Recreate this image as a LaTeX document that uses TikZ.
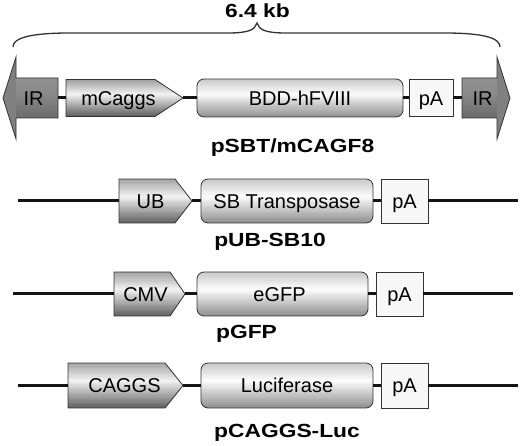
\documentclass[tikz,border=0pt]{standalone}
\usepackage{fontspec}
\usetikzlibrary{calc}
\setmainfont{Liberation Sans}
\newfontfamily\titlefont[FakeStretch=1.2]{Liberation Sans}
% vertical grey gradient made of thin strips over the extent of node #1
\newcommand\gradstrips[4]{%
  \foreach \k in {0,...,35}{%
    \pgfmathsetmacro\gf{(\k+0.5)/36}%
    \pgfmathsetmacro\ga{\k/36}%
    \pgfmathsetmacro\gb{(\k+1.5)/36}%
    \pgfmathsetmacro\gv{\gf<0.4 ? (#2+(#3-#2)*\gf/0.4) : (#3+(#4-#3)*(\gf-0.4)/0.6)}%
    \fill[black!\gv] ($(#1.north west)!\ga!(#1.south west)$) rectangle ($(#1.north east)!\gb!(#1.south east)$);
  }}
% promoter pentagon on node #1 with pointer length #2
\newcommand\promshape[2]{%
  \begin{scope}
    \clip (#1.north west) -- ([xshift=-#2]#1.north east) -- (#1.east)
      -- ([xshift=-#2]#1.south east) -- (#1.south west) -- cycle;
    \gradstrips{#1}{37}{5}{62}
  \end{scope}
  \draw[outl] (#1.north west) -- ([xshift=-#2]#1.north east) -- (#1.east)
      -- ([xshift=-#2]#1.south east) -- (#1.south west) -- cycle;}
% gene rounded box on node #1
\newcommand\geneshape[1]{%
  \begin{scope}
    \clip[rounded corners=7pt] (#1.north west) rectangle (#1.south east);
    \gradstrips{#1}{22}{1}{44}
  \end{scope}
  \draw[outl, rounded corners=7pt] (#1.north west) rectangle (#1.south east);}
\begin{document}
\begin{tikzpicture}[x=1pt,y=-1pt,
  outl/.style={draw=black!80, line width=0.8pt},
  hull/.style={inner sep=0pt, outer sep=0pt, draw=none},
  pabox/.style={outl, fill=black!3, inner sep=0pt, outer sep=0pt,
    font=\fontsize{20}{24}\selectfont, text height=14.3pt, text depth=0pt},
  irfill/.style={outl, fill=black!50},
  gl/.style={inner sep=0pt, font=\fontsize{20}{24}\selectfont, text height=14.3pt, text depth=0pt},
  lbl/.style={inner sep=0pt, font=\fontsize{20}{24}\selectfont, anchor=base},
  plabel/.style={inner sep=0pt, font=\titlefont\bfseries\fontsize{19}{23}\selectfont, anchor=base},
  bb/.style={line width=3pt, black!92}]
\useasboundingbox (0,0) rectangle (520,446);

% ---------- brace and size ----------
\draw[line width=1.3pt, black!80] (13,47) .. controls (13,38) and (30,33) .. (70,33) -- (228,33)
  .. controls (248,33) and (255,30) .. (257,23)
  .. controls (259,30) and (266,33) .. (286,33) -- (444,33)
  .. controls (484,33) and (500,38) .. (500,47);
\node[plabel] (kb) at (257.5,17.5) {6.4 kb};

% ---------- row 1: pSBT/mCAGF8 ----------
\node[hull, minimum width=42pt, minimum height=40pt] (irl) at (37,98) {};
\node[hull, minimum width=117pt, minimum height=37pt] (mc) at (124.5,98) {};
\node[hull, minimum width=206pt, minimum height=38pt] (bdd) at (300,98) {};
\node[pabox, minimum width=44pt, minimum height=37pt] (pa1) at (431,98) {pA};
\node[hull, minimum width=35pt, minimum height=40pt] (irr) at (479.5,98) {};

\fill[black!50] (irl.north east) -- (irl.north west) -- ([yshift=21pt]irl.north west)
  -- ([xshift=-13pt]irl.west) -- ([yshift=-21pt]irl.south west) -- (irl.south west) -- (irl.south east) -- cycle;
\begin{scope}
  \clip (irl.north west) rectangle (irl.south east);
  \gradstrips{irl}{43}{46}{58}
\end{scope}
\draw[outl] (irl.north east) -- (irl.north west) -- ([yshift=21pt]irl.north west)
  -- ([xshift=-13pt]irl.west) -- ([yshift=-21pt]irl.south west) -- (irl.south west) -- (irl.south east) -- cycle;

\fill[black!50] (irr.north west) -- (irr.north east) -- ([yshift=21pt]irr.north east)
  -- ([xshift=13pt]irr.east) -- ([yshift=-21pt]irr.south east) -- (irr.south east) -- (irr.south west) -- cycle;
\begin{scope}
  \clip (irr.north west) rectangle (irr.south east);
  \gradstrips{irr}{43}{46}{58}
\end{scope}
\draw[outl] (irr.north west) -- (irr.north east) -- ([yshift=21pt]irr.north east)
  -- ([xshift=13pt]irr.east) -- ([yshift=-21pt]irr.south east) -- (irr.south east) -- (irr.south west) -- cycle;

\promshape{mc}{28pt}
\geneshape{bdd}

\node[lbl] (irlt) at (33.5,105.2) {IR};
\node[lbl] (irrt) at (482.5,105.2) {IR};
\node[lbl] (mct) at (118.5,105.2) {mCaggs};
\node[gl] (bddt) at (bdd) {BDD-hFVIII};

\draw[bb] (irl.east) -- (mc.west);
\draw[bb] (mc.east) -- (bdd.west);
\draw[bb] (bdd.east) -- (pa1.west);
\draw[bb] (pa1.east) -- (irr.west);

\node[plabel] (n1) at (292.5,153) {pSBT/mCAGF8};

% ---------- row 2: pUB-SB10 ----------
\coordinate (l2) at (18,201);
\coordinate (r2) at (518,201);
\node[hull, minimum width=73pt, minimum height=44pt] (ub) at (155.5,201) {};
\node[hull, minimum width=172pt, minimum height=44pt] (sb) at (287,201) {};
\node[pabox, minimum width=47pt, minimum height=44pt] (pa2) at (404.5,201) {pA};
\promshape{ub}{17pt}
\geneshape{sb}
\node[lbl] (ubt) at (150.5,208.2) {UB};
\node[gl] (sbt) at (sb) {SB Transposase};
\draw[bb] (l2) -- (ub.west);
\draw[bb] (ub.east) -- (sb.west);
\draw[bb] (sb.east) -- (pa2.west);
\draw[bb] (pa2.east) -- (r2);
\node[plabel] (n2) at (270,247) {pUB-SB10};

% ---------- row 3: pGFP ----------
\coordinate (l3) at (13,294);
\coordinate (r3) at (513,294);
\node[hull, minimum width=71pt, minimum height=44pt] (cmv) at (149.5,294) {};
\node[hull, minimum width=171pt, minimum height=44pt] (egfp) at (282.5,294) {};
\node[pabox, minimum width=47pt, minimum height=44pt] (pa3) at (399.5,294) {pA};
\promshape{cmv}{15pt}
\geneshape{egfp}
\node[lbl] (cmvt) at (145.5,301.2) {CMV};
\node[gl] (egfpt) at (279.5,294) {eGFP};
\draw[bb] (l3) -- (cmv.west);
\draw[bb] (cmv.east) -- (egfp.west);
\draw[bb] (egfp.east) -- (pa3.west);
\draw[bb] (pa3.east) -- (r3);
\node[plabel] (n3) at (246.5,339) {pGFP};

% ---------- row 4: pCAGGS-Luc ----------
\coordinate (l4) at (18,385.5);
\coordinate (r4) at (518,385.5);
\node[hull, minimum width=115pt, minimum height=45pt] (cag) at (125.5,385.5) {};
\node[hull, minimum width=172pt, minimum height=45pt] (luc) at (287,385.5) {};
\node[pabox, minimum width=47pt, minimum height=45pt] (pa4) at (404.5,385.5) {pA};
\promshape{cag}{18pt}
\geneshape{luc}
\node[lbl] (cagt) at (124.5,392.7) {CAGGS};
\node[gl] (luct) at (luc) {Luciferase};
\draw[bb] (l4) -- (cag.west);
\draw[bb] (cag.east) -- (luc.west);
\draw[bb] (luc.east) -- (pa4.west);
\draw[bb] (pa4.east) -- (r4);
\node[plabel] (n4) at (287,437.5) {pCAGGS-Luc};
\end{tikzpicture}
\end{document}
